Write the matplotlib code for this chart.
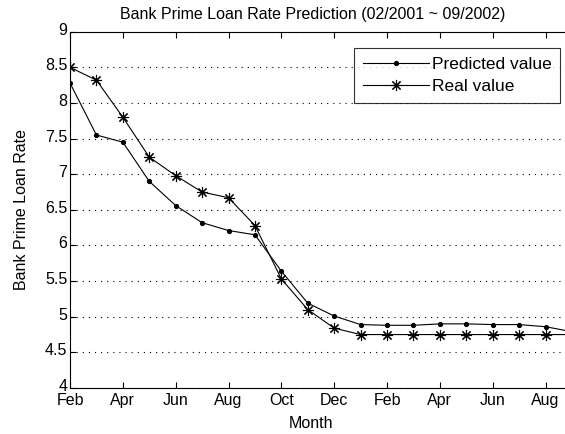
import matplotlib.pyplot as plt
import matplotlib.transforms as mtransforms
import numpy as np

# Monthly bank prime loan rate, 02/2001 .. 09/2002
months = ['Feb', 'Mar', 'Apr', 'May', 'Jun', 'Jul', 'Aug', 'Sep', 'Oct', 'Nov',
          'Dec', 'Jan', 'Feb', 'Mar', 'Apr', 'May', 'Jun', 'Jul', 'Aug', 'Sep']
predicted = [8.28, 7.55, 7.45, 6.90, 6.56, 6.32, 6.21, 6.15, 5.64, 5.19,
             5.01, 4.89, 4.88, 4.88, 4.90, 4.90, 4.89, 4.89, 4.86, 4.79]
real = [8.50, 8.32, 7.80, 7.24, 6.98, 6.75, 6.67, 6.28, 5.53, 5.10,
        4.84, 4.75, 4.75, 4.75, 4.75, 4.75, 4.75, 4.75, 4.75, 4.75]
yticks = [4, 4.5, 5, 5.5, 6, 6.5, 7, 7.5, 8, 8.5, 9]

plt.rcParams['font.family'] = ['Liberation Sans', 'DejaVu Sans']
plt.rcParams['font.size'] = 10

W, H = 565, 434
fig = plt.figure(figsize=(W / 100, H / 100), dpi=100)
ax = fig.add_axes([70 / W, 1 - 388 / H, (572 - 70) / W, (388 - 31.7) / H])

x = np.arange(len(months))
asterisk = (8, 2, 0)
ax.plot(x, predicted, color='black', lw=0.8, marker='.', markersize=5.5,
        label='Predicted value')
ax.plot(x, real, color='black', lw=0.8, marker=asterisk, markersize=8,
        markeredgewidth=0.8, label='Real value')

ax.set_xlim(0, len(months) - 1)
ax.set_ylim(4, 9)
ax.set_yticks(yticks)
ax.set_yticklabels([f'{v:g}' for v in yticks])
ax.set_xticks(x[::2])
ax.set_xticklabels(months[::2])
ax.tick_params(direction='in', top=True, right=True, length=4, width=0.8,
               labelsize=11.5, pad=2)
ax.tick_params(axis='x', pad=3.5)
for s in ax.spines.values():
    s.set_linewidth(0.8)

# nudge the y tick labels up a little so "4" sits above "Feb"
lift = mtransforms.ScaledTranslation(0, 3 / 100, fig.dpi_scale_trans)
for lbl in ax.get_yticklabels():
    lbl.set_transform(lbl.get_transform() + lift)

ax.yaxis.grid(True, color='black', linestyle=(0, (1, 4.5)), lw=0.8)

fig.text(313 / W, 1 - 14 / H, 'Bank Prime Loan Rate Prediction (02/2001 ~ 09/2002)',
         ha='center', va='center', fontsize=11.5)
fig.text(311 / W, 1 - 423 / H, 'Month', ha='center', va='center', fontsize=11.5)
fig.text(22 / W, 1 - 210 / H, 'Bank Prime Loan Rate', rotation=90,
         ha='center', va='center', fontsize=11.5)

leg = fig.legend(loc='upper right', bbox_to_anchor=(560 / W, 1 - 48 / H),
                 fontsize=12.5, frameon=True, fancybox=False, handlelength=3.8,
                 handletextpad=0.15, borderpad=0.5, labelspacing=0.4,
                 borderaxespad=0)
leg.get_frame().set_edgecolor('black')
leg.get_frame().set_linewidth(0.8)

fig.savefig('out.png', dpi=100)
